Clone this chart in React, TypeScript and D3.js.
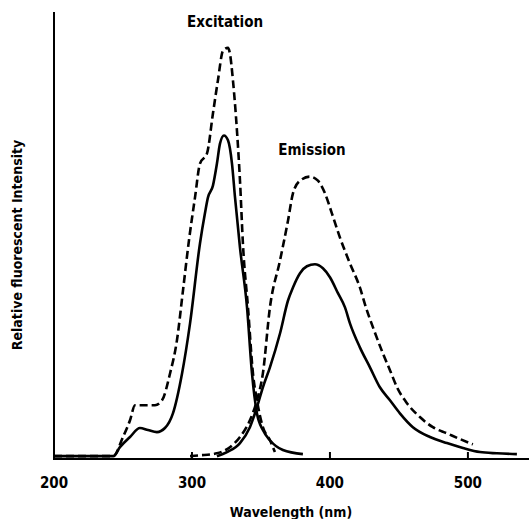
import React from 'react';
import * as d3 from 'd3';

// wavelength (nm), relative intensity (dashed excitation peak ~ 100)
const excitationDashed: [number, number][] = [
  [200, 0], [243, 0], [250, 4.7], [255.1, 8.8], [258.7, 12.5], [264.5, 12.5], [273.2, 12.5],
  [278.3, 13.7], [284.1, 20.3], [289.1, 28.4], [293.5, 40.7], [297.8, 52.9], [302.2, 63.5],
  [305.8, 71.8], [310.9, 74.3], [315.2, 84.1], [318.8, 92.2], [322.5, 99.5], [326.1, 100.2],
  [327.5, 98.8], [329.7, 92.2], [332.6, 79.9], [334.8, 67.6], [337, 51.7], [340.6, 36.5],
  [344.2, 20.3], [347.1, 13.7], [351.4, 7.1], [356.5, 3.9], [360.1, 1.0],
];

const excitationSolid: [number, number][] = [
  [200, 0], [243, 0], [247.8, 2.2], [255.1, 4.7], [262.3, 6.9], [268.1, 6.4], [274.6, 5.9],
  [280.4, 6.9], [286.2, 10.5], [292.8, 20.3], [298.6, 32.6], [305.8, 52.2], [309.4, 59.6],
  [311.6, 63.5], [315.2, 66.4], [318.1, 71.8], [320.3, 76.7], [323.2, 78.7], [326.1, 77.5],
  [329, 71.8], [331.2, 63.5], [334.8, 51.2], [339.9, 36.5], [343.5, 20.3], [347.1, 10.5],
  [351.4, 6.4], [356.5, 3.9], [365.9, 1.5], [380.4, 0.5],
];

const emissionDashed: [number, number][] = [
  [298.6, 0], [305.8, 0.2], [318.1, 0.7], [327.5, 2.2], [334.8, 4.7], [342, 8.8], [347.1, 13.7],
  [351.4, 20.3], [356.5, 36.5], [363.8, 48.0], [369.6, 57.8], [373.2, 64.5], [378.3, 67.6],
  [385.5, 68.6], [391.3, 67.6], [396.4, 64.5], [401.4, 59.6], [407.2, 53.7], [414.5, 47.3],
  [421.7, 41.4], [426.1, 36.5], [431.2, 31.6], [438.4, 25.2], [443.5, 21.1], [448.6, 16.9],
  [455.8, 13.0], [465.2, 9.6], [474.6, 7.1], [484.8, 5.6], [494.2, 4.2], [503.6, 2.9],
];

const emissionSolid: [number, number][] = [
  [318.1, 0], [325.4, 1.0], [334.8, 3.2], [342, 7.1], [347.1, 12.0], [351.4, 16.9], [356.5, 21.8],
  [363.8, 30.1], [369.6, 38.2], [373.2, 41.4], [378.3, 44.9], [383.3, 46.6], [389.1, 47.1],
  [394.9, 46.1], [400, 43.9], [405.8, 40.0], [410.9, 36.5], [414.5, 32.6], [421.7, 26.7],
  [429, 21.8], [436.2, 16.9], [443.5, 13.7], [450.7, 10.5], [460.1, 7.1], [472.5, 4.7],
  [484.8, 3.2], [496.4, 2.0], [508.7, 1.0], [521, 0.7], [535.5, 0.5],
];

const xTicks = [200, 300, 400, 500];

const width = 529;
const height = 519;

const font = '"DejaVu Sans Condensed", "Liberation Sans Narrow", sans-serif';

export default function App() {
  const x = d3.scaleLinear().domain([200, 545]).range([54, 530]);
  const y = d3.scaleLinear().domain([-0.7, 109]).range([459, 12]);

  // monotone keeps the flat baseline from wobbling
  const line = d3.line<[number, number]>()
    .x(d => x(d[0]))
    .y(d => y(d[1]))
    .curve(d3.curveMonotoneX);

  const series = [
    { data: excitationDashed, dashed: true },
    { data: excitationSolid, dashed: false },
    { data: emissionDashed, dashed: true },
    { data: emissionSolid, dashed: false },
  ];

  const axisY = y(-0.7);

  return (
    <svg width={width} height={height} style={{ position: 'absolute', left: 0, top: 0, background: '#fff' }}>
      {/* axes */}
      <line x1={x(200)} y1={12} x2={x(200)} y2={axisY} stroke="#000" strokeWidth={2} />
      <line x1={x(200) - 1} y1={axisY} x2={width} y2={axisY} stroke="#000" strokeWidth={2} />
      {xTicks.slice(1).map(t => (
        <line key={t} x1={x(t)} x2={x(t)} y1={axisY} y2={axisY - 7} stroke="#000" strokeWidth={2} />
      ))}
      {xTicks.map(t => (
        <text key={t} x={x(t)} y={488} textAnchor="middle" fontFamily={font} fontWeight="bold" fontSize={15}>
          {t}
        </text>
      ))}

      {series.map((s, i) => (
        <path
          key={i}
          d={line(s.data) || ''}
          fill="none"
          stroke="#000"
          strokeWidth={2.6}
          strokeDasharray={s.dashed ? '8 4' : undefined}
        />
      ))}

      <text x={225} y={27} textAnchor="middle" fontFamily={font} fontWeight="bold" fontSize={15}>Excitation</text>
      <text x={312} y={155} textAnchor="middle" fontFamily={font} fontWeight="bold" fontSize={15}>Emission</text>
      <text x={291} y={517} textAnchor="middle" fontFamily={font} fontWeight="bold" fontSize={14}>Wavelength (nm)</text>
      <text transform="translate(22,245) rotate(-90)" textAnchor="middle" fontFamily={font} fontWeight="bold" fontSize={14}>
        Relative fluorescent Intensity
      </text>
    </svg>
  );
}
